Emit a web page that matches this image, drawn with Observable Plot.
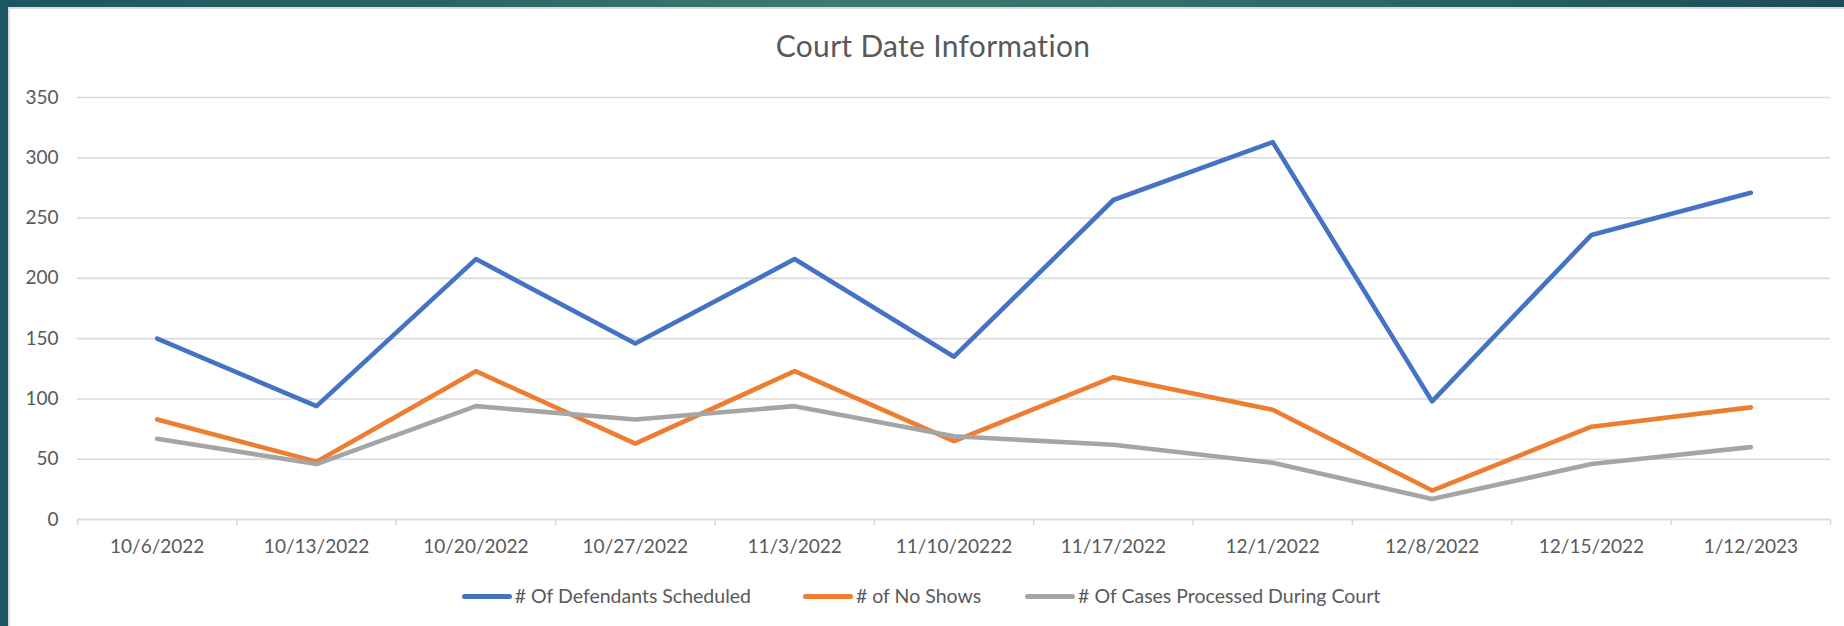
<!DOCTYPE html>
<html><head><meta charset="utf-8">
<script src="https://cdn.jsdelivr.net/npm/d3@7"></script>
<script src="https://cdn.jsdelivr.net/npm/@observablehq/plot@0.6"></script>
<style>
html,body{margin:0;padding:0;}
body{width:1844px;height:626px;overflow:hidden;position:relative;
 background:linear-gradient(90deg,#1d5560 0%,#2b6665 25%,#3e7a72 45%,#2e6a68 70%,#1c4d58 100%);
 font-family:Lato,sans-serif;color:#595959;}
#panel{position:absolute;left:8px;top:7px;width:1836px;height:619px;background:#fff;
 border-left:2px solid #dcdcdc;border-top:2px solid #dcdcdc;box-sizing:border-box;}
#title{position:absolute;left:0;top:30px;width:1866px;text-align:center;font-size:30px;line-height:1;letter-spacing:0.3px;}
#chart{position:absolute;left:0;top:70px;}
#legend{position:absolute;left:0;top:584px;width:1842px;display:flex;justify-content:center;font-size:19.5px;line-height:24px;}
.item{display:flex;align-items:center;}
.item + .item{margin-left:52px;}
.item + .item + .item{margin-left:44px;}
.sw{width:50px;height:5px;border-radius:3px;margin-right:3px;}
</style>
</head><body>
<div id="panel"></div>
<div id="title">Court Date Information</div>
<div id="chart"></div>
<div id="legend"></div>
<script>
const categories = ["10/6/2022","10/13/2022","10/20/2022","10/27/2022","11/3/2022","11/10/20222","11/17/2022","12/1/2022","12/8/2022","12/15/2022","1/12/2023"];
const scheduled = [150, 94, 216, 146, 216, 135, 265, 313, 98, 236, 271];
const noShows = [83, 48, 123, 63, 123, 65, 118, 91, 24, 77, 93];
const processed = [67, 46, 94, 83, 94, 69, 62, 47, 17, 46, 60];
const seriesNames = ["# Of Defendants Scheduled", "# of No Shows", "# Of Cases Processed During Court"];
const seriesColors = ["#4472C4", "#ED7D31", "#A5A5A5"];
const yTicks = [0, 50, 100, 150, 200, 250, 300, 350];

const seriesValues = [scheduled, noShows, processed];
const rows = [];
seriesValues.forEach((vals, s) => vals.forEach((v, i) => rows.push({series: seriesNames[s], i, cat: categories[i], value: v})));

const grid = "#d9d9d9";
const plot = Plot.plot({
  width: 1844,
  height: 500,
  marginLeft: 77,
  marginRight: 14,
  marginTop: 27,
  marginBottom: 51,
  style: {fontFamily: "Lato, sans-serif", fontSize: "19px", color: "#595959", background: "transparent"},
  x: {type: "linear", domain: [0, categories.length]},
  y: {domain: [0, 350]},
  color: {domain: seriesNames, range: seriesColors},
  marks: [
    Plot.gridY(yTicks, {stroke: grid, strokeOpacity: 1, strokeWidth: 1.6}),
    Plot.axisY(yTicks, {tickSize: 0, tickPadding: 19, fontSize: 19, fill: "#595959", label: null}),
    Plot.axisX(d3.range(categories.length + 1), {tickSize: 6, stroke: grid, strokeWidth: 1.6, strokeOpacity: 1, tickFormat: () => "", label: null}),
    Plot.axisX(categories.map((c, i) => i + 0.5), {tickSize: 0, tickPadding: 20, fontSize: 19, fill: "#595959", tickFormat: v => categories[Math.round(v - 0.5)], label: null}),
    Plot.ruleY([0], {stroke: grid, strokeWidth: 1.6}),
    Plot.line(rows, {x: d => d.i + 0.5, y: "value", z: "series", stroke: "series", strokeWidth: 4.6, strokeLinecap: "round", strokeLinejoin: "round"})
  ]
});
document.getElementById("chart").appendChild(plot);

const legend = document.getElementById("legend");
seriesNames.forEach((n, k) => {
  const it = document.createElement("div");
  it.className = "item";
  const sw = document.createElement("div");
  sw.className = "sw";
  sw.style.background = seriesColors[k];
  const tx = document.createElement("span");
  tx.textContent = n;
  it.appendChild(sw); it.appendChild(tx);
  legend.appendChild(it);
});
</script>
</body></html>
